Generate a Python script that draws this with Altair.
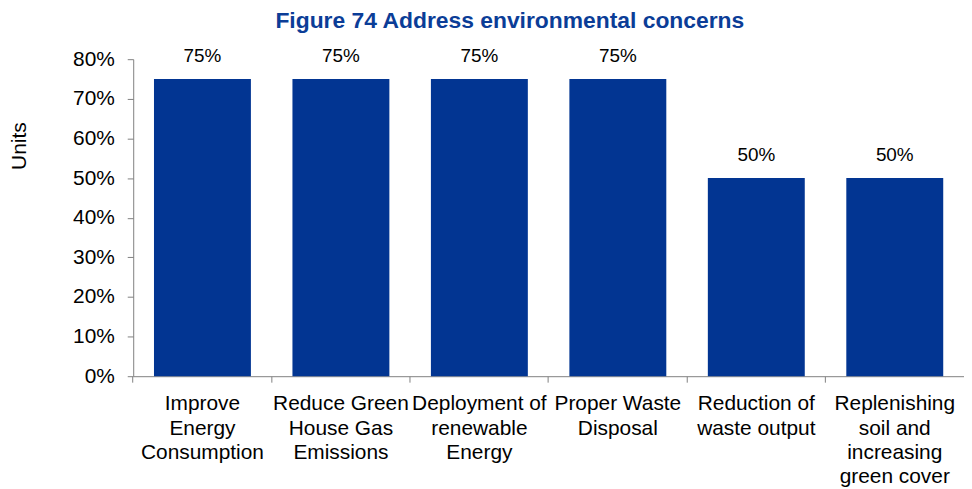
import altair as alt
import pandas as pd

categories = [
    "Improve|Energy|Consumption",
    "Reduce Green|House Gas|Emissions",
    "Deployment of|renewable|Energy",
    "Proper Waste|Disposal",
    "Reduction of|waste output",
    "Replenishing|soil and|increasing|green cover",
]
values = [0.75, 0.75, 0.75, 0.75, 0.50, 0.50]
y_ticks = [0, 0.1, 0.2, 0.3, 0.4, 0.5, 0.6, 0.7, 0.8]

df = pd.DataFrame({"cat": categories, "val": values})

FONT = "Liberation Sans"
BLUE = "#023592"

x = alt.X(
    "cat:N",
    sort=categories,
    scale=alt.Scale(paddingInner=0.3, paddingOuter=0.15),
    axis=alt.Axis(
        title=None,
        labelExpr="split(datum.label, '|')",
        labelAngle=0,
        labelFont=FONT,
        labelFontSize=21,
        labelLineHeight=24.3,
        labelColor="#000000",
        labelPadding=11,
        labelLimit=300,
        tickSize=6,
        tickColor="#808080",
        domainColor="#808080",
        bandPosition=-0.2143,
    ),
)

y = alt.Y(
    "val:Q",
    scale=alt.Scale(domain=[0, 0.8], nice=False),
    axis=alt.Axis(
        title="Units",
        values=y_ticks,
        format=".0%",
        grid=False,
        labelOverlap=False,
        labelFont=FONT,
        labelFontSize=21,
        labelColor="#000000",
        labelPadding=13,
        tickSize=6,
        tickColor="#808080",
        domainColor="#808080",
        titleFont=FONT,
        titleFontSize=21,
        titleFontWeight="normal",
        titleColor="#000000",
        titleX=-114,
        titleY=87,
        titleAngle=-90,
        titleAlign="center",
        titleBaseline="middle",
    ),
)

base = alt.Chart(df).encode(x=x, y=y)

bars = base.mark_bar(color=BLUE)

labels = base.mark_text(
    font=FONT, fontSize=19, color="#000000", baseline="alphabetic", dy=-17
).encode(text=alt.Text("val:Q", format=".0%"))

chart = (
    alt.layer(bars, labels)
    .properties(
        width=836,
        height=319,
        autosize=alt.AutoSizeParams(type="none"),
        padding={"left": 126, "top": 50, "right": 0, "bottom": 112},
        title=alt.TitleParams(
            "Figure 74 Address environmental concerns",
            font=FONT,
            fontSize=23,
            fontWeight="bold",
            color="#0B3D97",
            anchor="middle",
            dx=-39,
            offset=14,
        ),
    )
    .configure_view(stroke=None)
)

chart.save("out.html", embed_options={"renderer": "svg", "actions": False})
